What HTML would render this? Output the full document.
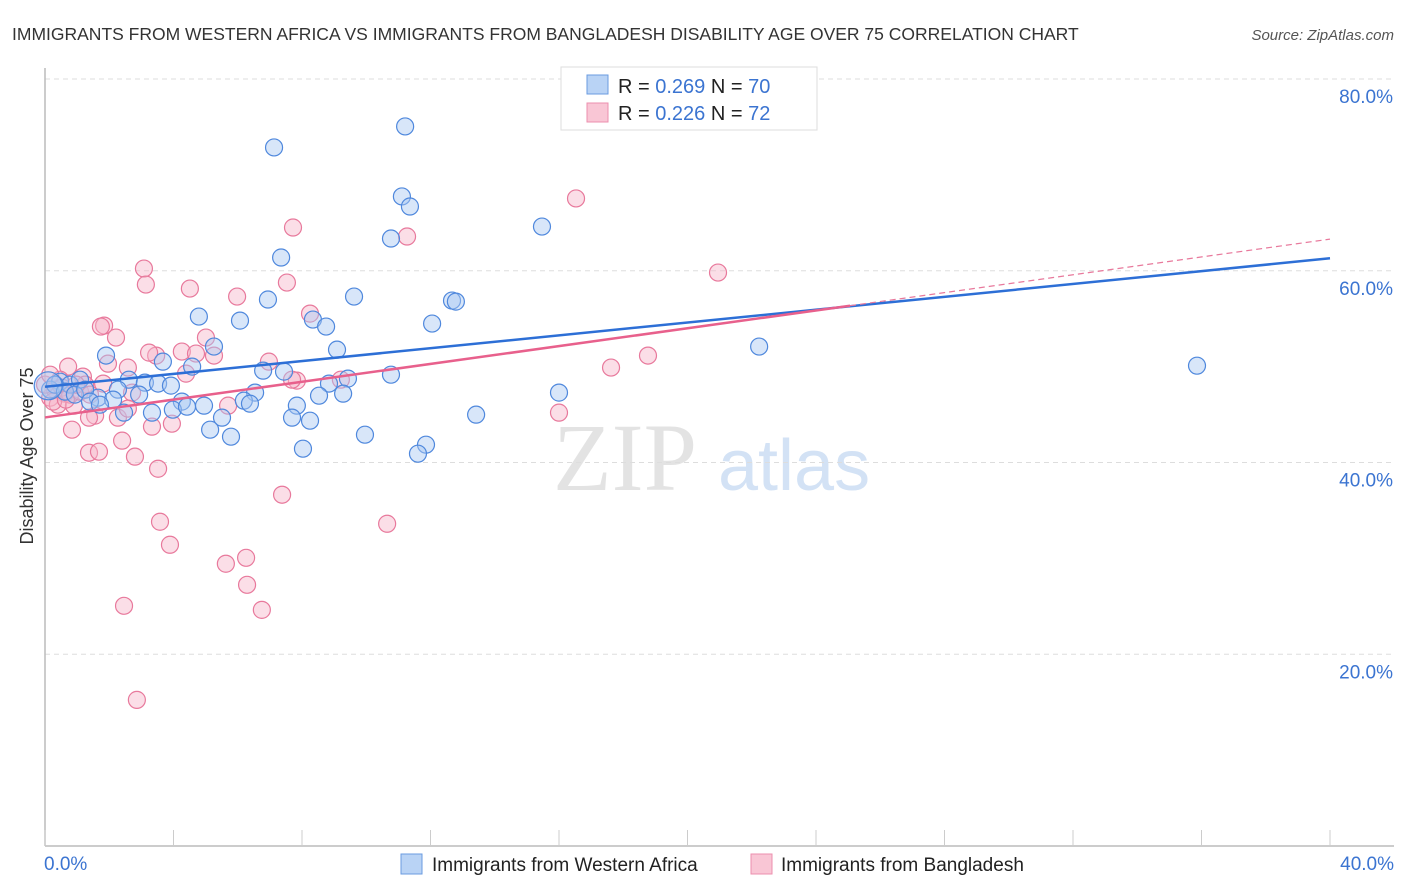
<!DOCTYPE html>
<html><head><meta charset="utf-8"><style>
body{margin:0;background:#fff;font-family:"Liberation Sans",sans-serif;}
svg{display:block}
</style></head><body>
<svg id="chart" width="1406" height="892">
<text x="12" y="40" font-size="17.5" fill="#333">IMMIGRANTS FROM WESTERN AFRICA VS IMMIGRANTS FROM BANGLADESH DISABILITY AGE OVER 75 CORRELATION CHART</text>
<text x="1394" y="40" font-size="15" fill="#555" font-style="italic" text-anchor="end">Source: ZipAtlas.com</text>
<text x="33" y="456" font-size="18" fill="#333" text-anchor="middle" transform="rotate(-90 33 456)">Disability Age Over 75</text>
<g>
<text x="553" y="490" font-size="96" fill="#ddd" font-family="Liberation Serif,serif" opacity="0.8">ZIP</text>
<text x="718" y="490" font-size="72" fill="#c9dcf3" opacity="0.8">atlas</text>
</g>
<g id="grid"></g><g id="axes"></g><g id="pts"></g><g id="lines"></g>
<g>
<rect x="561" y="67" width="256" height="63" fill="#fff" stroke="#ddd"/>
<rect x="587" y="75" width="21" height="19" fill="#b9d3f5" stroke="#6a9be0"/>
<rect x="587" y="103" width="21" height="19" fill="#f9c6d5" stroke="#ec8fae"/>
<text x="618" y="93" font-size="20" fill="#222">R = <tspan fill="#3b74d1">0.269</tspan>   N = <tspan fill="#3b74d1">70</tspan></text>
<text x="618" y="120" font-size="20" fill="#222">R = <tspan fill="#3b74d1">0.226</tspan>   N = <tspan fill="#3b74d1">72</tspan></text>
</g>
<g>
<rect x="401" y="854" width="21" height="20" fill="#b9d3f5" stroke="#6a9be0"/>
<text x="432" y="871" font-size="19" fill="#222">Immigrants from Western Africa</text>
<rect x="751" y="854" width="21" height="20" fill="#f9c6d5" stroke="#ec8fae"/>
<text x="781" y="871" font-size="19" fill="#222">Immigrants from Bangladesh</text>
</g>
</svg>
<script>
const xTicks=[0,40];
const yTicks=[20,40,60,80];
const blueX=[11.21,7.13,11.11,11.36,15.47,10.77,7.35,6.94,9.62,12.67,12.79,4.79,6.07,8.34,8.75,12.05,5.26,1.90,9.09,22.23,35.86,3.67,4.58,6.79,7.44,10.77,9.43,2.61,3.11,3.52,3.92,8.84,16.0,9.28,2.27,2.93,6.54,6.19,6.38,8.53,4.26,1.65,2.12,2.46,3.33,3.98,4.42,4.95,7.84,13.42,5.51,7.69,8.25,5.14,5.79,9.96,11.86,11.61,8.03,0.47,0.78,1.09,0.16,0.31,0.62,0.93,1.25,1.40,1.71,0.1];
const blueY=[75.05,72.86,67.75,66.70,64.61,63.36,61.38,57.0,57.31,56.89,56.78,55.22,54.80,54.91,54.18,54.49,52.09,51.15,51.77,52.09,50.10,50.52,50.0,49.58,49.48,49.16,48.75,48.64,48.33,48.23,48.02,48.23,47.29,47.18,47.60,47.08,47.29,46.45,46.14,46.97,46.35,46.76,46.56,45.20,45.20,45.51,45.82,45.93,45.93,44.99,44.68,44.68,44.36,43.42,42.69,42.90,41.86,40.92,41.44,48.43,48.12,48.64,47.60,48.12,47.39,47.08,47.60,46.35,46.03,48.0];
const pinkX=[16.53,7.72,11.27,20.95,3.08,3.14,4.51,5.98,7.53,8.25,1.84,1.74,2.21,5.01,5.26,18.77,4.26,4.70,3.46,3.24,6.97,1.96,0.72,17.62,2.58,4.39,7.84,9.21,7.69,1.18,1.81,2.71,0.47,0.62,0.16,0.40,0.90,1.56,1.37,2.27,2.58,16.0,3.33,3.95,0.84,2.40,1.37,1.68,2.80,3.52,5.70,7.38,10.65,3.58,3.89,6.26,5.63,6.29,2.46,6.75,2.86,0.31,0.53,0.78,1.09,0.0,0.16,1.25,0.25,0.65,0.97,1.40];
const pinkY=[67.54,64.51,63.57,59.81,60.23,58.56,58.14,57.31,58.77,55.53,54.28,54.18,53.03,53.03,51.15,51.15,51.57,51.36,51.15,51.46,50.52,50.31,50.0,49.90,49.90,49.27,48.54,48.64,48.64,48.96,48.23,47.29,48.64,47.18,46.76,46.03,45.93,44.89,44.68,44.68,45.62,45.20,43.74,44.05,43.42,42.28,41.02,41.13,40.61,39.35,45.93,36.64,33.61,33.82,31.42,30.06,29.44,27.24,25.05,24.63,15.24,47.60,47.81,47.08,47.39,48.12,49.16,48.12,46.35,46.56,48.12,47.08];
const blueLine=[47.9,61.3];
const pinkLine=[44.7,63.3];
const pinkSolidEnd=25.06;
const NS='http://www.w3.org/2000/svg';
const X0=45,X1=1330,Y0=846,Y80=79;
function sx(v){return X0+(v/40)*(X1-X0);}
function sy(v){return Y0-(v/80)*(Y0-Y80);}
function mk(tag,attrs,parent){const e=document.createElementNS(NS,tag);for(const k in attrs)e.setAttribute(k,attrs[k]);parent.appendChild(e);return e;}
const grid=document.getElementById('grid'),axes=document.getElementById('axes'),pts=document.getElementById('pts'),lines=document.getElementById('lines');
yTicks.forEach(t=>{
 const l=mk('line',{x1:X0,x2:1394,y1:sy(t),y2:sy(t),stroke:'#ddd','stroke-dasharray':'5,4'},grid);
 
 
 const tx=mk('text',{x:1393,y:sy(t)+24,'font-size':19,fill:'#3b74d1','text-anchor':'end'},axes);
 tx.textContent=t.toFixed(1)+'%';
 
 
});
const la=mk('line',{x1:X0,x2:1394,y1:Y0,y2:Y0,stroke:'#bbb','stroke-width':1.5},axes);


const ly=mk('line',{x1:X0,x2:X0,y1:68,y2:Y0,stroke:'#bbb','stroke-width':1.5},axes);


for(let i=0;i<=10;i++){
 const t=mk('line',{x1:sx(i*4),x2:sx(i*4),y1:Y0,y2:830,stroke:'#ccc'},axes);
 
 
}
xTicks.forEach((t,i)=>{
 const tx=mk('text',{x:i==0?44:1394,y:870,'font-size':19,fill:'#3b74d1','text-anchor':i==0?'start':'end'},axes);
 tx.textContent=t.toFixed(1)+'%';
 
 
});
function dots(xs,ys,fill,stroke,name){
 xs.forEach((v,i)=>{
  const c=mk('circle',{cx:sx(v),cy:sy(ys[i]),r:(name=='blue-point'&&i==xs.length-1)?14:8.5,fill:fill,'fill-opacity':0.45,stroke:stroke,'stroke-width':1.2},pts);
  
  
 });
}
dots(pinkX,pinkY,'#f7b5c9','#e8799c','pink-point');
dots(blueX,blueY,'#a9c8f2','#4f88dd','blue-point');
const bl=mk('line',{x1:sx(0),y1:sy(blueLine[0]),x2:sx(40),y2:sy(blueLine[1]),stroke:'#2d6fd6','stroke-width':2.5},lines);


function pY(x){return pinkLine[0]+(pinkLine[1]-pinkLine[0])*x/40;}
const pl=mk('line',{x1:sx(0),y1:sy(pY(0)),x2:sx(pinkSolidEnd),y2:sy(pY(pinkSolidEnd)),stroke:'#e8608c','stroke-width':2.5},lines);


const pd=mk('line',{x1:sx(pinkSolidEnd),y1:sy(pY(pinkSolidEnd)),x2:sx(40),y2:sy(pY(40)),stroke:'#e8799c','stroke-width':1.2,'stroke-dasharray':'6,4'},lines);


</script>
</body></html>
